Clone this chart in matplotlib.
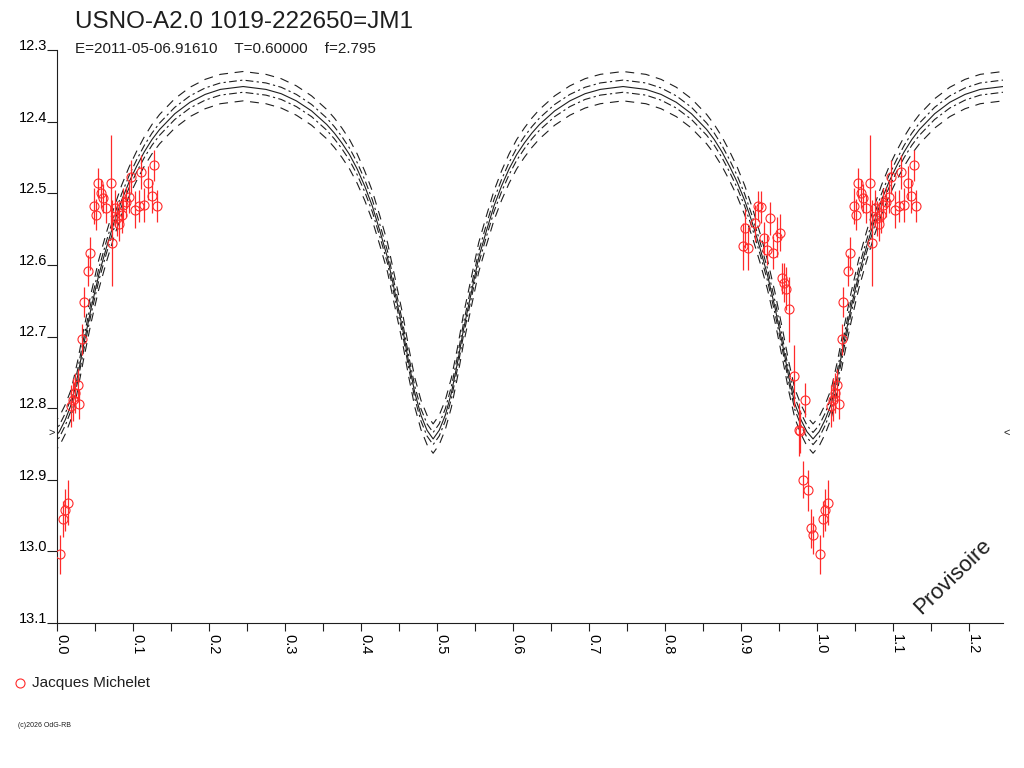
import numpy as np
import matplotlib
matplotlib.use("Agg")
import matplotlib.pyplot as plt
from matplotlib.lines import Line2D
from matplotlib.transforms import ScaledTranslation

plt.rcParams['font.family'] = ['Liberation Sans', 'DejaVu Sans']

title = "USNO-A2.0 1019-222650=JM1"
subtitle = "E=2011-05-06.91610    T=0.60000    f=2.795"
observer = "Jacques Michelet"
credit = "(c)2026 OdG-RB"
stamp = "Provisoire"

# observations (phase, magnitude, error)
obs_phase = [0.004, 0.0075, 0.0105, 0.0145, 0.019, 0.0215, 0.024, 0.027, 0.029, 0.0325,
             0.035, 0.041, 0.044, 0.049, 0.051, 0.054, 0.0575, 0.061, 0.0645, 0.0705,
             0.073, 0.076, 0.079, 0.082, 0.085, 0.087, 0.091, 0.095, 0.098, 0.1025,
             0.108, 0.111, 0.1145, 0.120, 0.1245, 0.1275, 0.131,
             0.903, 0.906, 0.9095, 0.918, 0.923, 0.926, 0.9305, 0.934, 0.938, 0.9425,
             0.947, 0.951, 0.9545, 0.957, 0.960, 0.963, 0.970, 0.976, 0.978, 0.982,
             0.985, 0.9885, 0.992, 0.995]
obs_mag = [13.004, 12.955, 12.942, 12.932, 12.797, 12.788, 12.779, 12.768, 12.794, 12.704,
           12.652, 12.608, 12.584, 12.518, 12.530, 12.486, 12.500, 12.507, 12.521, 12.485,
           12.570, 12.521, 12.535, 12.543, 12.530, 12.516, 12.512, 12.505, 12.477, 12.523,
           12.518, 12.470, 12.516, 12.486, 12.504, 12.461, 12.518,
           12.574, 12.549, 12.577, 12.542, 12.518, 12.519, 12.563, 12.579, 12.535, 12.583,
           12.561, 12.555, 12.619, 12.625, 12.633, 12.662, 12.755, 12.830, 12.832, 12.900,
           12.789, 12.915, 12.968, 12.977]
obs_err = [0.027, 0.025, 0.029, 0.031, 0.029, 0.030, 0.028, 0.023, 0.021, 0.022,
           0.021, 0.022, 0.023, 0.025, 0.022, 0.021, 0.020, 0.020, 0.020, 0.066,
           0.060, 0.025, 0.024, 0.023, 0.025, 0.024, 0.021, 0.022, 0.024, 0.026,
           0.022, 0.024, 0.024, 0.024, 0.023, 0.022, 0.022,
           0.033, 0.027, 0.030, 0.026, 0.021, 0.022, 0.023, 0.021, 0.023, 0.023,
           0.028, 0.026, 0.022, 0.027, 0.030, 0.045, 0.043, 0.037, 0.030, 0.026,
           0.024, 0.028, 0.027, 0.027]

# model light curve: half-branch profiles, distance from minimum -> magnitude
prim_min = [-0.005, 0.995]
sec_min = [0.495]
prof_dist = [0.000, 0.008, 0.016, 0.024, 0.032, 0.040, 0.050, 0.060, 0.070, 0.080, 0.090,
             0.100, 0.110, 0.120, 0.130, 0.140, 0.160, 0.180, 0.200, 0.220, 0.250]
prim_mag = [12.843, 12.833, 12.816, 12.794, 12.756, 12.712, 12.660, 12.614, 12.576, 12.541,
            12.510, 12.484, 12.462, 12.442, 12.425, 12.411, 12.389, 12.373, 12.362, 12.355,
            12.351]
sec_mag = [12.843, 12.831, 12.810, 12.779, 12.737, 12.690, 12.640, 12.590, 12.553, 12.518,
           12.490, 12.466, 12.446, 12.430, 12.416, 12.404, 12.385, 12.371, 12.361, 12.355,
           12.351]
band_offsets = [-0.021, -0.009, 0.0, 0.008, 0.020]
band_styles = [(0, (8, 6)), (0, (7, 3, 2, 3)), '-', (0, (7, 3, 2, 3)), (0, (8, 6))]

min_marker_mag = 12.834

xticks = [0.0, 0.1, 0.2, 0.3, 0.4, 0.5, 0.6, 0.7, 0.8, 0.9, 1.0, 1.1, 1.2]
yticks = [12.3, 12.4, 12.5, 12.6, 12.7, 12.8, 12.9, 13.0, 13.1]

red = '#ff2a2a'
ink = '#1e1e1e'

fig = plt.figure(figsize=(10.24, 7.68), dpi=100)
ax = fig.add_axes([57/1024, 1-623/768, (1003-57)/1024, (623-50)/768])

# build the model cycle from the profiles, minimum by minimum
d = np.array(prof_dist)
pieces = []
for c in prim_min:
    pieces.append((c, np.array(prim_mag)))
for c in sec_min:
    pieces.append((c, np.array(sec_mag)))
pieces.sort(key=lambda p: p[0])
cx, cy = [], []
for c, m in pieces:
    cx += list(c - d[::-1]) + list(c + d[1:])
    cy += list(m[::-1]) + list(m[1:])
cx = np.array(cx)
cy = np.array(cy)
for off, ls in zip(band_offsets, band_styles):
    ax.plot(cx, cy + off, color=ink, lw=0.8, linestyle=ls)

# observations, repeated one cycle later
ph = np.array(obs_phase)
mg = np.array(obs_mag)
er = np.array(obs_err)
sel = ph < 0.25
allp = np.concatenate([ph, ph[sel] + 1])
allm = np.concatenate([mg, mg[sel]])
alle = np.concatenate([er, er[sel]])
ax.errorbar(allp, allm, yerr=alle, fmt='o', mfc='none', mec=red, mew=0.8, ms=6.5,
            ecolor=red, elinewidth=0.9, capsize=0, zorder=3)

ax.set_xlim(0, 1.245)
ax.set_ylim(13.1, 12.3)
for s in ['top', 'right']:
    ax.spines[s].set_visible(False)
for s in ['left', 'bottom']:
    ax.spines[s].set_color(ink)
    ax.spines[s].set_linewidth(0.8)

ax.set_xticks(xticks)
ax.set_xticks(np.array(xticks[:-1]) + 0.05, minor=True)
ax.set_xticklabels(["%.1f" % t for t in xticks], rotation=270, ha='left', va='top')
ax.tick_params(axis='x', which='both', length=5.8, width=0.8, color=ink, pad=2, labelsize=10.5)
shift = ScaledTranslation(-3/100, 0, fig.dpi_scale_trans)
for lbl in ax.get_xticklabels():
    lbl.set_transform(lbl.get_transform() + shift)
ax.set_yticks(yticks)
ax.set_yticklabels(["%.1f" % t for t in yticks], va='baseline')
ax.tick_params(axis='y', length=7.2, width=0.8, color=ink, pad=0, labelsize=10.5)

tr = ax.get_yaxis_transform()
ax.text(-0.006, min_marker_mag, '>', transform=tr, ha='center', va='center', fontsize=8,
        color=ink, clip_on=False)
ax.text(1.004, min_marker_mag, '<', transform=tr, ha='center', va='center', fontsize=8,
        color=ink, clip_on=False)

fig.text(75/1024, 1-28/768, title, fontsize=17.5, va='baseline', color=ink)
fig.text(75/1024, 1-53/768, subtitle, fontsize=11, va='baseline', color=ink)
fig.text(953/1024, 1-577/768, stamp, fontsize=16, rotation=44, ha='center', va='center',
         color=ink)

fig.add_artist(Line2D([20/1024], [1-683/768], marker='o', ms=6.5, mfc='none', mec=red,
                      mew=0.8, transform=fig.transFigure))
fig.text(32/1024, 1-687/768, observer, fontsize=11, va='baseline', color=ink)
fig.text(18/1024, 1-727/768, credit, fontsize=5, va='baseline', color=ink)

fig.savefig('out.png', dpi=100)
